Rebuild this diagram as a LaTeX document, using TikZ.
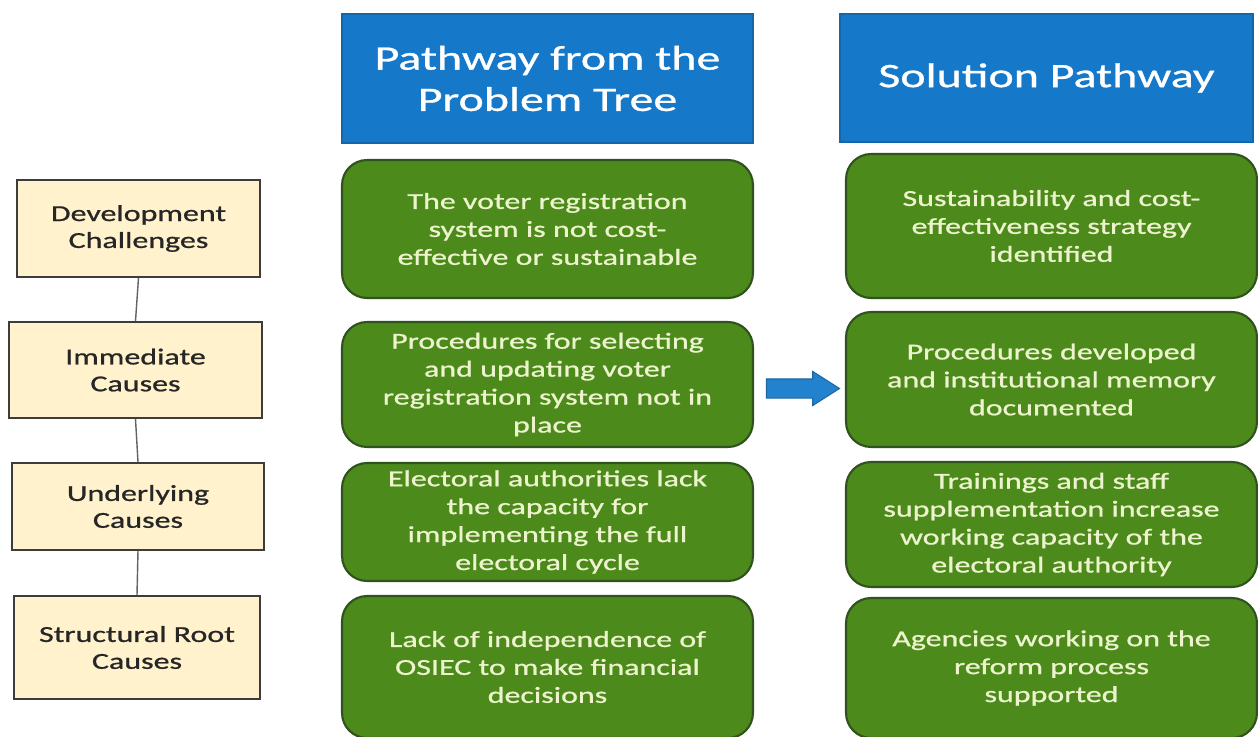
\documentclass[tikz,border=0pt]{standalone}
\usepackage{fontspec}
\setmainfont{Carlito}[FakeStretch=1.4, FakeBold=0.9]
\usetikzlibrary{shapes.arrows}

\definecolor{headblue}{RGB}{22,120,200}
\definecolor{arrowblue}{RGB}{34,130,205}
\definecolor{boxgreen}{RGB}{76,138,28}
\definecolor{edgegreen}{RGB}{48,82,28}
\definecolor{textcream}{RGB}{236,243,205}
\definecolor{levelbeige}{RGB}{255,242,204}
\definecolor{edgegray}{RGB}{60,60,60}

\tikzset{
    header/.style={fill=headblue, draw=headblue!85!black, line width=1pt, text=white,
        align=center, inner sep=0pt, font=\fontsize{19.5}{23.5}\selectfont},
    pathbox/.style={fill=boxgreen, draw=edgegreen, line width=1.2pt, rounded corners=0.5cm,
        text=textcream, align=center, inner sep=0pt, minimum width=8.22cm,
        font=\fontsize{13}{15.9}\selectfont},
    levelbox/.style={fill=levelbeige, draw=edgegray, line width=1.1pt, text=black!85,
        align=center, inner sep=0pt, font=\fontsize{13}{15.3}\selectfont},
    link/.style={draw=edgegray!80, line width=0.8pt},
    blockarrow/.style={single arrow, fill=arrowblue, draw=arrowblue!80!black, line width=0.6pt,
        inner sep=0.18cm, minimum height=1.46cm, minimum width=0.66cm,
        single arrow head extend=0.15cm, single arrow tip angle=65}
}

\begin{document}
\begin{tikzpicture}[x=0.02cm, y=-0.02cm]
    \useasboundingbox (0,0) rectangle (1258,737);

    % column heads
    \node[header, minimum width=8.22cm, minimum height=2.58cm] (probhead) at (547.5,78.5)
        {Pathway from the\\Problem Tree};
    \node[header, minimum width=8.26cm, minimum height=2.56cm] (solhead) at (1046.5,78)
        {Solution Pathway};

    % levels
    \node[levelbox, minimum width=4.86cm, minimum height=1.94cm] (dev) at (138.5,228.5)
        {Development\\Challenges};
    \node[levelbox, minimum width=5.06cm, minimum height=1.92cm] (imm) at (135.5,370)
        {Immediate\\Causes};
    \node[levelbox, minimum width=5.04cm, minimum height=1.74cm] (und) at (138,506.5)
        {Underlying\\Causes};
    \node[levelbox, minimum width=4.92cm, minimum height=2.06cm] (root) at (137,647.5)
        {Structural Root\\Causes};
    \draw[link] (dev.south) -- (imm.north);
    \draw[link] (imm.south) -- (und.north);
    \draw[link] (und.south) -- (root.north);

    % problem tree pathway
    \node[pathbox, minimum height=2.76cm] (prob1) at (547.5,229)
        {The voter registration\\system is not cost-\\effective or sustainable};
    \node[pathbox, minimum height=2.5cm] (prob2) at (547.5,384.5)
        {Procedures for selecting\\and updating voter\\registration system not in\\place};
    \node[pathbox, minimum height=2.36cm] (prob3) at (547.5,522)
        {Electoral authorities lack\\the capacity for\\implementing the full\\electoral cycle};
    \node[pathbox, minimum height=2.84cm] (prob4) at (547.5,667)
        {Lack of independence of\\OSIEC to make financial\\decisions};

    % solution pathway
    \node[pathbox, minimum height=2.88cm] (sol1) at (1051.5,226)
        {Sustainability and cost-\\effectiveness strategy\\identified};
    \node[pathbox, minimum height=2.7cm] (sol2) at (1051.5,379.5)
        {Procedures developed\\and institutional memory\\documented};
    \node[pathbox, minimum height=2.5cm] (sol3) at (1051.5,524.5)
        {Trainings and staff\\supplementation increase\\working capacity of the\\electoral authority};
    \node[pathbox, minimum height=2.8cm] (sol4) at (1051.5,668)
        {Agencies working on the\\reform process\\supported};

    \node[blockarrow] (shift) at (795.5,388.5) {};
\end{tikzpicture}
\end{document}
